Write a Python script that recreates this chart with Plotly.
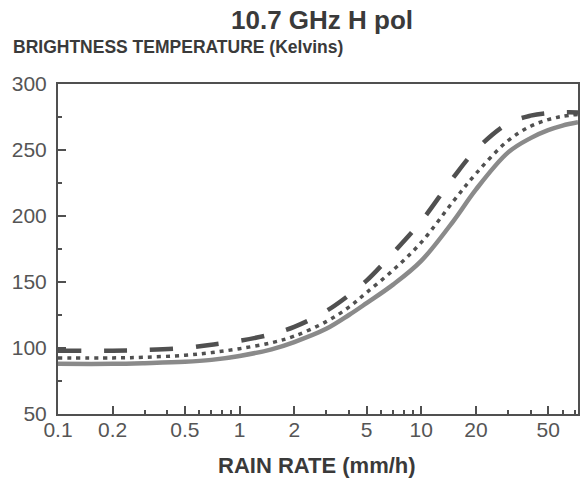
import math
import plotly.graph_objects as go

# Rain rate (mm/h) sample points shared by the three curves
rain_rate = [0.1, 0.2, 0.3, 0.5, 0.7, 1, 1.5, 2, 3, 4, 5, 7, 10, 15, 20, 30, 40, 50, 60, 73]

# Brightness temperature (K) for the three model curves
tb_solid = [88, 88, 88.5, 89.5, 91, 94, 99, 104.5, 114.5, 125, 134, 148, 166, 196, 220, 248, 259, 265, 268.5, 271]
tb_dotted = [92.5, 92.5, 93, 94.5, 96.5, 99.5, 104, 109, 120, 131, 142, 159, 180, 211, 232, 257, 268, 273, 275.5, 277]
tb_dashed = [98, 98, 98.5, 100, 102.5, 105.5, 110.5, 116, 128, 140, 151, 172, 196, 229, 250, 270, 276, 278, 278.5, 278.5]

# Axis ticks
x_tick_vals = [0.1, 0.2, 0.5, 1, 2, 5, 10, 20, 50]
x_tick_text = ["0.1", "0.2", "0.5", "1", "2", "5", "10", "20", "50"]
x_minor_vals = [0.3, 0.4, 0.6, 0.7, 0.8, 0.9, 3, 4, 6, 7, 8, 9, 30, 40, 60, 70]
y_tick_vals = [50, 100, 150, 200, 250, 300]
y_minor_vals = [75, 125, 175, 225, 275]

W, H = 586, 484
L, R, T, B = 58, 580, 84, 414
FONT = "Liberation Sans"
INK = "#505050"


def px_x(px):
    return (px - L) / (R - L)


def px_y(py):
    return (B - py) / (B - T)


fig = go.Figure()
fig.add_trace(go.Scatter(
    x=rain_rate, y=tb_solid, mode="lines",
    line=dict(color="#8a8a8a", width=4.5, shape="spline"),
))
fig.add_trace(go.Scatter(
    x=rain_rate, y=tb_dotted, mode="lines",
    line=dict(color=INK, width=3.5, dash="4px,5px", shape="spline"),
))
fig.add_trace(go.Scatter(
    x=rain_rate, y=tb_dashed, mode="lines",
    line=dict(color=INK, width=4.5, dash="23px,23px", shape="spline"),
))

tick_font = dict(family=FONT, size=21, color="#555555")
title_color = "#3a3a3a"

fig.update_layout(
    width=W, height=H,
    margin=dict(l=L, r=W - R, t=T, b=H - B, pad=0),
    paper_bgcolor="white", plot_bgcolor="white",
    showlegend=False,
    xaxis=dict(
        type="log", range=[-1, math.log10(73)],
        tickmode="array", tickvals=x_tick_vals, ticktext=x_tick_text,
        ticks="inside", ticklen=8, tickwidth=1.5, tickcolor=INK,
        showline=True, linecolor=INK, linewidth=2, mirror=True,
        showgrid=False, zeroline=False, tickfont=tick_font,
        ticklabelstandoff=-4,
        minor=dict(tickmode="array", tickvals=x_minor_vals, ticks="inside",
                   ticklen=4, tickwidth=1.5, tickcolor=INK, showgrid=False),
    ),
    yaxis=dict(
        range=[50, 300],
        tickmode="array", tickvals=y_tick_vals,
        ticks="inside", ticklen=8, tickwidth=1.5, tickcolor=INK,
        showline=True, linecolor=INK, linewidth=2, mirror=True,
        showgrid=False, zeroline=False, tickfont=tick_font,
        ticklabelstandoff=5,
        minor=dict(tickmode="array", tickvals=y_minor_vals, ticks="inside",
                   ticklen=4, tickwidth=1.5, tickcolor=INK, showgrid=False),
    ),
    annotations=[
        dict(text="<b>10.7 GHz H pol</b>", xref="paper", yref="paper",
             x=px_x(323), y=px_y(20), xanchor="center", yanchor="middle",
             showarrow=False, font=dict(family=FONT, size=26, color=title_color)),
        dict(text="<b>BRIGHTNESS TEMPERATURE (Kelvins)</b>", xref="paper", yref="paper",
             x=px_x(11), y=px_y(47), xanchor="left", yanchor="middle",
             showarrow=False, font=dict(family=FONT, size=17.5, color=title_color)),
        dict(text="<b>RAIN RATE (mm/h)</b>", xref="paper", yref="paper",
             x=px_x(318), y=px_y(466), xanchor="center", yanchor="middle",
             showarrow=False, font=dict(family=FONT, size=22, color=title_color)),
    ],
)

fig.write_html("out.html")
